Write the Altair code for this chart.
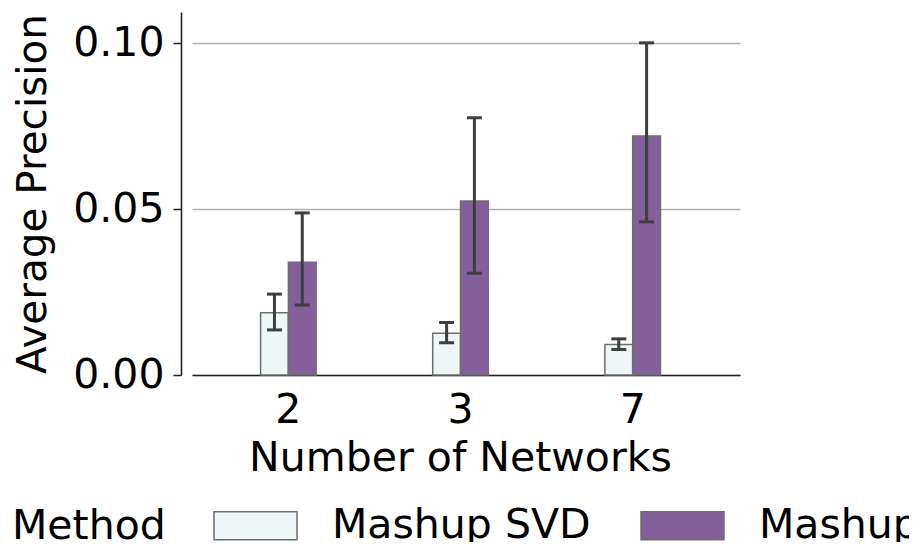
import altair as alt
import pandas as pd

networks = ["2", "3", "7"]
methods = ["Mashup SVD", "Mashup"]
colors = ["#eff6f8", "#855f9b"]

svd_mean = [0.0188, 0.0126, 0.0092]
svd_lo = [0.0136, 0.0097, 0.0077]
svd_hi = [0.0244, 0.0158, 0.0109]

mashup_mean = [0.0340, 0.0525, 0.0721]
mashup_lo = [0.0211, 0.0307, 0.0462]
mashup_hi = [0.0489, 0.0776, 0.1002]

rows = []
for i, n in enumerate(networks):
    rows.append({"Networks": n, "Method": methods[0], "mean": svd_mean[i], "lo": svd_lo[i], "hi": svd_hi[i]})
    rows.append({"Networks": n, "Method": methods[1], "mean": mashup_mean[i], "lo": mashup_lo[i], "hi": mashup_hi[i]})
df = pd.DataFrame(rows)

FONT = "DejaVu Sans"

x_enc = alt.X(
    "Networks:N",
    sort=networks,
    title="Number of Networks",
    scale=alt.Scale(paddingInner=0.677, paddingOuter=0.43, align=0.463),
    axis=alt.Axis(
        labelAngle=0, ticks=False, tickSize=0, grid=False,
        domainColor="#222222", domainWidth=1.6,
        labelFontSize=41, titleFontSize=41, labelPadding=15, titlePadding=8,
        titleX=268, titleAnchor="middle",
        labelColor="black", titleColor="black", titleFontWeight="normal",
        labelFont=FONT, titleFont=FONT,
    ),
)
xo_enc = alt.XOffset(
    "Method:N", sort=methods,
    scale=alt.Scale(domain=methods, paddingInner=0, paddingOuter=0),
)
y_scale = alt.Scale(domain=[0, 0.1095], nice=False, zero=True)

bars = alt.Chart(df).mark_bar(stroke="#6e6e6e", strokeWidth=1.5, opacity=1).encode(
    x=x_enc,
    xOffset=xo_enc,
    y=alt.Y(
        "mean:Q",
        scale=y_scale,
        title="Average Precision",
        axis=alt.Axis(
            values=[0, 0.05, 0.10], format=".2f", offset=11,
            tickSize=8, tickWidth=1.5, tickColor="#222222",
            domainColor="#222222", domainWidth=1.6,
            grid=True, gridColor="#b0b0b0", gridWidth=1.5,
            labelFontSize=41, titleFontSize=40.5, labelPadding=9, titlePadding=18,
            labelColor="black", titleColor="black", titleFontWeight="normal",
            labelFont=FONT, titleFont=FONT,
        ),
    ),
    color=alt.Color(
        "Method:N",
        sort=methods,
        scale=alt.Scale(domain=methods, range=colors),
        legend=alt.Legend(
            title="Method", orient="none", direction="horizontal",
            legendX=-180, legendY=471,
            titleOrient="left", titleFontSize=41, labelFontSize=41,
            titleFont=FONT, labelFont=FONT, titleColor="black", labelColor="black",
            titleFontWeight="normal", titlePadding=47, labelLimit=0,
            titleAnchor="middle", titleBaseline="line-top", titleLineHeight=27,
            symbolType="M-1,-0.34H1V0.34H-1Z", symbolSize=6889,
            symbolStrokeColor="#6e6e6e", symbolStrokeWidth=1.5, symbolOpacity=1,
            labelOffset=34, columnPadding=47,
        ),
    ),
)

rules = alt.Chart(df).mark_rule(color="#3f3f3f", strokeWidth=3).encode(
    x=alt.X("Networks:N", sort=networks),
    xOffset=alt.XOffset("Method:N", sort=methods),
    y=alt.Y("lo:Q", scale=y_scale),
    y2="hi:Q",
)
caps_lo = alt.Chart(df).mark_tick(color="#3f3f3f", size=15, thickness=3, opacity=1).encode(
    x=alt.X("Networks:N", sort=networks),
    xOffset=alt.XOffset("Method:N", sort=methods),
    y=alt.Y("lo:Q", scale=y_scale),
)
caps_hi = alt.Chart(df).mark_tick(color="#3f3f3f", size=15, thickness=3, opacity=1).encode(
    x=alt.X("Networks:N", sort=networks),
    xOffset=alt.XOffset("Method:N", sort=methods),
    y=alt.Y("hi:Q", scale=y_scale),
)

chart = alt.layer(bars, rules, caps_lo, caps_hi).properties(
    width=548, height=363,
    autosize=alt.AutoSizeParams(type="none"),
    padding={"left": 184, "top": 4, "right": 169, "bottom": 167},
).configure(font=FONT, view=alt.ViewConfig(stroke="transparent", strokeWidth=0))

chart.save("out.html", embed_options={"renderer": "svg", "actions": False})
